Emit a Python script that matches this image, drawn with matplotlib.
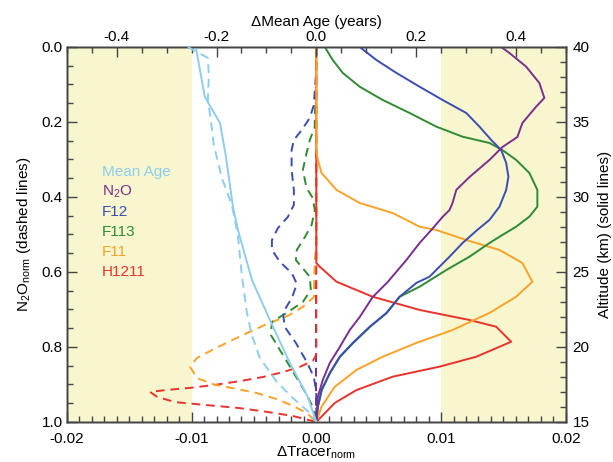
import matplotlib
matplotlib.use("Agg")
import matplotlib.pyplot as plt
from matplotlib.ticker import MultipleLocator, FixedLocator, FixedFormatter

plt.rcParams['font.family'] = ['Liberation Sans', 'DejaVu Sans']
plt.rcParams['mathtext.fontset'] = 'custom'
plt.rcParams['mathtext.rm'] = 'Liberation Sans'
plt.rcParams['mathtext.it'] = 'Liberation Sans'

# ---------------- data ----------------
# Solid lines: x = delta tracer (normalised) vs altitude (km)
n2o_alt = [40.0, 39.6, 38.69, 37.6, 36.6, 36.02, 34.93, 34.0, 33.33, 32.47, 31.33, 30.47, 29.6, 29.13,
           28.67, 27.8, 26.93, 25.8, 24.33, 23.33, 22.0, 21.13, 20.0, 18.93, 17.8, 16.67, 15.0]
n2o_val = [0.01482, 0.01548, 0.01682, 0.01788, 0.01828, 0.01762, 0.01652, 0.01612, 0.01492, 0.01388,
           0.01228, 0.01122, 0.01092, 0.01068, 0.01012, 0.00922, 0.00828, 0.00722, 0.00572, 0.00452,
           0.00348, 0.00268, 0.00188, 0.00108, 0.00052, 0.00012, 0.0]

f12_alt = [40.0, 39.13, 38.27, 37.35, 36.47, 35.6, 34.69, 33.8, 33.13, 32.27, 31.35, 30.47, 29.35,
           28.47, 27.8, 26.93, 26.02, 24.69, 24.27, 23.35, 22.27, 21.35, 20.27, 19.35, 18.27, 17.13,
           16.02, 15.0]
f12_val = [0.00348, 0.00482, 0.00642, 0.00828, 0.01012, 0.01202, 0.01308, 0.01402, 0.01482, 0.01522,
           0.0154, 0.01522, 0.01468, 0.01388, 0.01290, 0.01172, 0.01068, 0.00908, 0.00802, 0.00668,
           0.00562, 0.00428, 0.00292, 0.00188, 0.00108, 0.00042, 0.00012, 0.0]

f113_alt = [40.0, 39.13, 38.27, 37.35, 36.47, 35.6, 34.69, 34.02, 33.6, 33.13, 32.47, 31.6, 30.47,
            29.35, 28.69, 28.02, 27.47, 26.93, 26.02, 25.13, 24.02, 23.35, 22.27, 21.35, 20.27,
            19.35, 18.27, 17.13, 16.02, 15.0]
f113_val = [0.00068, 0.00132, 0.00212, 0.00348, 0.00532, 0.00748, 0.00962, 0.01172, 0.01388, 0.01492,
            0.01602, 0.01708, 0.01772, 0.01772, 0.01708, 0.01602, 0.01492, 0.01388, 0.01228, 0.01042,
            0.00828, 0.00668, 0.00565, 0.00432, 0.00296, 0.00190, 0.00110, 0.00044, 0.00013, 0.0]

f11_alt = [40.0, 33.13, 32.47, 31.6, 30.47, 29.6, 28.93, 28.02, 27.8, 27.13, 26.47, 25.6, 24.35,
           23.35, 22.27, 21.13, 20.27, 19.35, 18.47, 17.35, 16.02, 15.0]
f11_val = [0.0, 0.0, 0.00012, 0.00042, 0.00162, 0.00348, 0.00612, 0.00828, 0.00962, 0.01202, 0.01468,
           0.01652, 0.01732, 0.01602, 0.01388, 0.01092, 0.00802, 0.00532, 0.00322, 0.00148, 0.00042, 0.0]

h1211_alt = [40.0, 26.47, 25.6, 25.35, 24.35, 23.35, 22.47, 21.8, 21.35, 20.35, 19.35, 18.69, 18.02,
             17.13, 16.27, 15.0]
h1211_val = [0.0, 0.0, 0.0, 0.00028, 0.00162, 0.00452, 0.00828, 0.01228, 0.01442, 0.01562, 0.01282,
             0.00988, 0.00612, 0.00322, 0.00148, 0.0]

# Mean age solid: delta mean age (years) vs altitude (km)
age_alt = [40.0, 36.67, 34.93, 32.67, 29.33, 27.8, 24.47, 21.8, 18.93, 16.67, 15.0]
age_val = [-0.2415, -0.2234, -0.193, -0.181, -0.167, -0.157, -0.129, -0.093, -0.053, -0.017, 0.0]

# Dashed lines: x = delta tracer vs N2O_norm
f12d_n2o = [0.0, 0.08, 0.155, 0.189, 0.221, 0.248, 0.275, 0.328, 0.381, 0.421, 0.453, 0.483, 0.515,
            0.541, 0.573, 0.603, 0.632, 0.669, 0.709, 0.747, 0.789, 0.84, 0.88, 0.92, 1.0]
f12d_val = [0.0, -0.00004, -0.0002, -0.00052, -0.00116, -0.0018, -0.00198, -0.00198, -0.0018, -0.0018,
            -0.00228, -0.00308, -0.00356, -0.00356, -0.00292, -0.00196, -0.00156, -0.00196, -0.00268,
            -0.00252, -0.00164, -0.00076, -0.0002, 0.0, 0.0]

f113d_n2o = [0.0, 0.141, 0.176, 0.213, 0.248, 0.283, 0.328, 0.376, 0.403, 0.435, 0.475, 0.507, 0.541,
             0.568, 0.587, 0.613, 0.648, 0.68, 0.707, 0.733, 0.768, 0.808, 0.843, 0.883, 0.923, 0.96, 1.0]
f113d_val = [0.0, -0.00004, -0.00012, -0.00012, -0.00052, -0.00078, -0.00108, -0.00078, -0.00028,
             -0.00012, -0.00038, -0.00092, -0.00156, -0.00164, -0.00116, -0.00052, -0.00044, -0.00108,
             -0.00228, -0.00356, -0.00364, -0.00292, -0.00228, -0.00156, -0.00084, -0.00028, 0.0]

f11d_n2o = [0.0, 0.528, 0.568, 0.667, 0.693, 0.717, 0.741, 0.763, 0.787, 0.811, 0.829, 0.853, 0.883,
            0.901, 0.912, 0.923, 0.939, 0.957, 0.976, 1.0]
f11d_val = [0.0, 0.0, -0.00012, -0.0002, -0.00108, -0.00228, -0.00412, -0.00556, -0.00708, -0.00852,
            -0.00956, -0.01012, -0.00956, -0.00812, -0.00636, -0.00476, -0.00316, -0.00188, -0.00076, 0.0]

h1211d_n2o = [0.0, 0.821, 0.837, 0.853, 0.867, 0.88, 0.891, 0.901, 0.909, 0.915, 0.92, 0.933, 0.947,
              0.955, 0.963, 0.973, 0.984, 1.0]
h1211d_val = [0.0, 0.0, -0.00028, -0.00132, -0.00268, -0.00428, -0.00612, -0.00812, -0.01012, -0.01212,
              -0.01332, -0.01276, -0.01132, -0.00876, -0.00612, -0.00396, -0.00188, 0.0]

n2od_n2o = [0.0, 1.0]
n2od_val = [0.0, 0.0]

# Mean age dashed: delta mean age vs N2O_norm
aged_n2o = [0.0, 0.029, 0.075, 0.141, 0.195, 0.261, 0.349, 0.421, 0.501, 0.608, 0.707, 0.768, 0.829,
            0.893, 0.936, 0.976, 1.0]
aged_val = [-0.2575, -0.2174, -0.2154, -0.2174, -0.2114, -0.2054, -0.1894, -0.1693, -0.1573, -0.1493,
            -0.1393, -0.1293, -0.1132, -0.0792, -0.0471, -0.013, 0.0]

legend_names = ["Mean Age", "N$_2$O", "F12", "F113", "F11", "H1211"]

# ---------------- style ----------------
c_age = '#8fcdec'
c_n2o = '#7b2e8f'
c_f12 = '#3b4db3'
c_f113 = '#2f8a33'
c_f11 = '#fba227'
c_h1211 = '#e8332c'
shade = '#f8f6cf'
legend_colors = [c_age, c_n2o, c_f12, c_f113, c_f11, c_h1211]

fig = plt.figure(figsize=(6.13, 4.62), dpi=100)
ax = fig.add_axes([0.109, 0.0866, 0.814, 0.8117])
ax.set_xlim(-0.02, 0.02)
ax.set_ylim(1.0, 0.0)

ax.axvspan(-0.02, -0.01, color=shade, zorder=0, lw=0)
ax.axvspan(0.01, 0.02, color=shade, zorder=0, lw=0)

lw = 1.4
dash = (0, (4.5, 3.0))
ax.plot(n2od_val, n2od_n2o, color=c_n2o, lw=lw, ls=dash, zorder=2)
ax.plot(h1211d_val, h1211d_n2o, color=c_h1211, lw=lw, ls=dash, zorder=3)
ax.plot(f11d_val, f11d_n2o, color=c_f11, lw=lw, ls=dash, zorder=3)
ax.plot(f113d_val, f113d_n2o, color=c_f113, lw=lw, ls=dash, zorder=3)
ax.plot(f12d_val, f12d_n2o, color=c_f12, lw=lw, ls=dash, zorder=3)

# altitude axis (right) for solid lines
axr = ax.twinx()
axr.set_ylim(15, 40)
axr.plot(h1211_val, h1211_alt, color=c_h1211, lw=lw)
axr.plot(f11_val, f11_alt, color=c_f11, lw=lw)
axr.plot(f113_val, f113_alt, color=c_f113, lw=lw)
axr.plot(f12_val, f12_alt, color=c_f12, lw=lw)
axr.plot(n2o_val, n2o_alt, color=c_n2o, lw=lw)

# mean age axis (top) for mean age lines
axt = axr.twiny()
axt.set_xlim(-0.5, 0.5)
axt.plot(age_val, age_alt, color=c_age, lw=lw)
axt2 = ax.twiny()
axt2.set_xlim(-0.5, 0.5)
axt2.plot(aged_val, aged_n2o, color=c_age, lw=lw, ls=dash)
axt2.set_xticks([])
axt2.tick_params(top=False, labeltop=False, bottom=False, labelbottom=False)
for s in axt2.spines.values():
    s.set_visible(False)

fs = 11
tick_kw = dict(direction='in', color='#444444', labelsize=fs, width=1.0)

ax.xaxis.set_major_locator(FixedLocator([-0.02, -0.01, 0.0, 0.01, 0.02]))
ax.xaxis.set_major_formatter(FixedFormatter(["-0.02", "-0.01", "0.00", "0.01", "0.02"]))
ax.xaxis.set_minor_locator(MultipleLocator(0.001))
ax.yaxis.set_major_locator(FixedLocator([0.0, 0.2, 0.4, 0.6, 0.8, 1.0]))
ax.yaxis.set_major_formatter(FixedFormatter(["0.0", "0.2", "0.4", "0.6", "0.8", "1.0"]))
ax.yaxis.set_minor_locator(MultipleLocator(0.05))
ax.tick_params(which='major', length=7, pad=3, **tick_kw)
ax.tick_params(axis='x', which='major', pad=7)
ax.tick_params(which='minor', length=4, direction='in', color='#444444', width=1.0)
ax.tick_params(top=False, which='both')

axr.yaxis.set_major_locator(FixedLocator([15, 20, 25, 30, 35, 40]))
axr.yaxis.set_minor_locator(MultipleLocator(1))
axr.tick_params(which='major', length=7, pad=5, **tick_kw)
axr.tick_params(which='minor', length=4, direction='in', color='#444444', width=1.0)

axt.xaxis.set_major_locator(FixedLocator([-0.4, -0.2, 0.0, 0.2, 0.4]))
axt.xaxis.set_major_formatter(FixedFormatter(["-0.4", "-0.2", "0.0", "0.2", "0.4"]))
axt.xaxis.set_minor_locator(MultipleLocator(0.05))
axt.tick_params(which='major', length=7, pad=2, **tick_kw)
axt.tick_params(which='minor', length=4, direction='in', color='#444444', width=1.0)

for a in (ax, axr, axt):
    for s in a.spines.values():
        s.set_color('#444444')
        s.set_linewidth(1.0)

ax.set_xlabel("\u0394Tracer$_{\\rm norm}$", fontsize=fs, labelpad=-1)
ax.set_ylabel("N$_2$O$_{\\rm norm}$ (dashed lines)", fontsize=fs, labelpad=6)
axr.set_ylabel("Altitude (km) (solid lines)", fontsize=fs, labelpad=6)
axt.set_xlabel("\u0394Mean Age (years)", fontsize=fs, labelpad=3)

for i, (name, col) in enumerate(zip(legend_names, legend_colors)):
    ax.text(-0.01717, 0.333 + i * 0.0533, name, color=col, fontsize=fs,
            ha='left', va='center', zorder=5)

fig.savefig("out.png", dpi=100)
